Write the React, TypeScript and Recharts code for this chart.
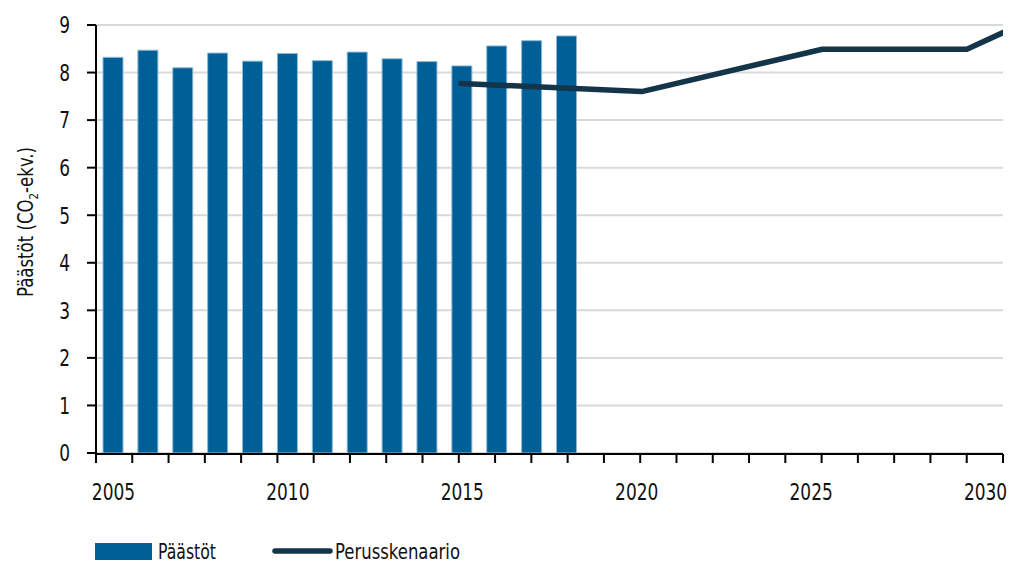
import React from "react"
import {
  ComposedChart,
  Bar,
  Line,
  XAxis,
  YAxis,
  CartesianGrid,
} from "recharts"

const years = [
  2005, 2006, 2007, 2008, 2009, 2010, 2011, 2012, 2013, 2014, 2015, 2016, 2017,
  2018, 2019, 2020, 2021, 2022, 2023, 2024, 2025, 2026, 2027, 2028, 2029, 2030,
]
const paastot = [
  8.32, 8.47, 8.1, 8.41, 8.24, 8.4, 8.25, 8.43, 8.29, 8.23, 8.14, 8.56, 8.67, 8.77,
]
const skenaarioYears = [2015, 2020, 2025, 2029, 2030]
const skenaarioValues = [7.77, 7.6, 8.49, 8.49, 8.84]
const yTicks = [0, 1, 2, 3, 4, 5, 6, 7, 8, 9]

const barData = years.map((year, i) => ({
  year,
  paastot: i < paastot.length ? paastot[i] : null,
}))
const lineData = skenaarioYears.map((year, i) => ({
  year,
  perus: skenaarioValues[i],
}))
const boundaryTicks = Array.from({ length: years.length + 1 }, (_, i) => i)

// no condensed Myriad here, so squeeze DejaVu Sans Condensed a bit with textLength
const FONT = "'DejaVu Sans Condensed', 'DejaVu Sans', sans-serif"
const BAR_COLOR = "#005f96"
const LINE_COLOR = "#143449"
const TEXT_COLOR = "#111"
const DIGIT_W = 10.8

const XTick = ({ x, y, payload }: { x?: number; y?: number; payload?: { value: number } }) => {
  const label = String(payload?.value ?? "")
  return (
    <text
      x={x}
      y={y}
      dy="0.71em"
      textAnchor="middle"
      fontFamily={FONT}
      fontSize={23}
      fill={TEXT_COLOR}
      textLength={label.length * DIGIT_W}
      lengthAdjust="spacingAndGlyphs"
    >
      {label}
    </text>
  )
}

const YTick = ({ x, y, payload }: { x?: number; y?: number; payload?: { value: number } }) => {
  const label = String(payload?.value ?? "")
  return (
    <text
      x={x}
      y={y}
      dy="0.36em"
      textAnchor="end"
      fontFamily={FONT}
      fontSize={23}
      fill={TEXT_COLOR}
      textLength={label.length * DIGIT_W}
      lengthAdjust="spacingAndGlyphs"
    >
      {label}
    </text>
  )
}

const YLabel = () => {
  const cx = 33
  const cy = 222
  return (
    <text
      x={cx}
      y={cy}
      transform={`rotate(-90, ${cx}, ${cy})`}
      textAnchor="middle"
      fontFamily={FONT}
      fontSize={21}
      fill={TEXT_COLOR}
      textLength={150}
      lengthAdjust="spacingAndGlyphs"
    >
      <tspan>Päästöt (CO</tspan>
      <tspan fontSize={13} dy={5}>2</tspan>
      <tspan dy={-5}>-ekv.)</tspan>
    </text>
  )
}

export default function App() {
  return (
    <div style={{ position: "absolute", left: 0, top: 0, width: 1010, height: 561, background: "#fff" }}>
      <ComposedChart
        width={1010}
        height={561}
        data={barData}
        margin={{ top: 25, right: 7, bottom: 106, left: 36 }}
        style={{ fontFamily: FONT }}
      >
        <CartesianGrid horizontal vertical={false} stroke="#d9d9d9" strokeWidth={2} xAxisId="bars" />
        <XAxis
          xAxisId="line"
          dataKey="year"
          type="number"
          domain={[2004.9, 2030]}
          allowDataOverflow
          height={0}
          hide
        />
        <XAxis
          xAxisId="ticks"
          type="number"
          domain={[0, years.length]}
          ticks={boundaryTicks}
          interval={0}
          allowDataOverflow
          height={1}
          axisLine={{ stroke: "#000", strokeWidth: 2 }}
          tickLine={{ stroke: "#000", strokeWidth: 2 }}
          tickSize={9}
          tickFormatter={() => ""}
        />
        <XAxis
          xAxisId="bars"
          dataKey="year"
          type="category"
          interval={4}
          height={1}
          axisLine={false}
          tickLine={false}
          tickSize={0}
          tickMargin={31}
          tick={<XTick />}
        />
        <YAxis
          domain={[0, 9]}
          ticks={yTicks}
          interval={0}
          width={60}
          axisLine={{ stroke: "#000", strokeWidth: 2 }}
          tickLine={{ stroke: "#000", strokeWidth: 2 }}
          tickSize={9}
          tickMargin={17}
          tick={<YTick />}
          label={<YLabel />}
        />
        <Bar
          xAxisId="bars"
          dataKey="paastot"
          fill={BAR_COLOR}
          stroke="#8ab8d6"
          strokeWidth={1}
          barSize={20}
          isAnimationActive={false}
        />
        <Line
          xAxisId="line"
          data={lineData}
          dataKey="perus"
          type="linear"
          stroke={LINE_COLOR}
          strokeWidth={5.5}
          strokeLinecap="round"
          strokeLinejoin="round"
          dot={false}
          activeDot={false}
          isAnimationActive={false}
        />
      </ComposedChart>
      <svg
        width={1010}
        height={40}
        style={{ position: "absolute", left: 0, top: 521 }}
        fontFamily={FONT}
        fontSize={22}
        fill={TEXT_COLOR}
      >
        <rect x={95} y={22} width={57} height={17} fill={BAR_COLOR} />
        <text x={158} y={38} textLength={58} lengthAdjust="spacingAndGlyphs">Päästöt</text>
        <line x1={275} y1={30} x2={330} y2={30} stroke={LINE_COLOR} strokeWidth={5.5} strokeLinecap="round" />
        <text x={335} y={38} textLength={125} lengthAdjust="spacingAndGlyphs">Perusskenaario</text>
      </svg>
    </div>
  )
}
